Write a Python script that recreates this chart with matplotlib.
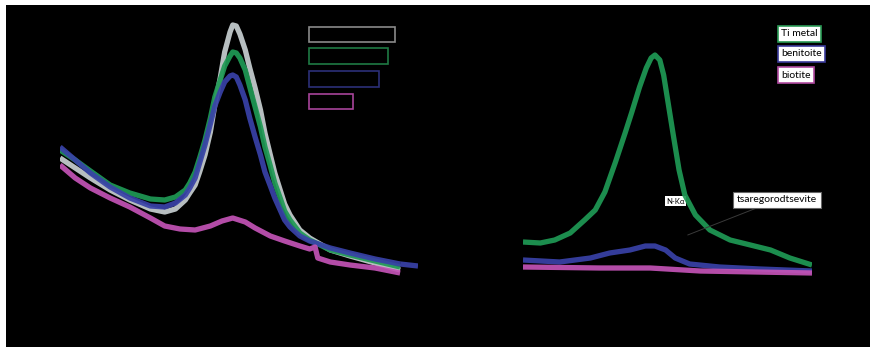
import matplotlib
matplotlib.use("Agg")
import matplotlib.pyplot as plt
from matplotlib.patches import Rectangle

plt.rcParams['font.family'] = ['Lato', 'DejaVu Sans']

# ---- left panel data (energy, intensity) ----
left_energy = [380.0, 381.7, 383.4, 385.6, 387.8, 390.1, 391.7, 392.9, 394.0, 394.5,
               395.1, 395.6, 396.2, 396.8, 397.3, 397.9, 398.4, 399.0, 399.3, 399.7,
               400.1, 400.7, 401.2, 401.8, 402.4, 402.9, 403.5, 404.0, 404.6, 405.1,
               405.7, 406.8, 407.9, 410.2, 412.4, 415.2, 418.0]
left_tsar = [142, 132, 122, 110, 100, 91, 88, 91, 100, 107,
             115, 128, 145, 168, 195, 222, 248, 268, 275, 274,
             266, 250, 232, 212, 190, 167, 145, 127, 110, 96,
             85, 70, 62, 50, 44, 37, 30]
left_ti = [150, 140, 129, 115, 107, 101, 100, 103, 110, 117,
           128, 142, 160, 182, 203, 220, 234, 244, 248, 247,
           242, 230, 213, 193, 173, 153, 134, 117, 102, 89,
           80, 67, 60, 50, 45, 39, 33]
left_ben = [153, 140, 127, 113, 102, 94, 93, 97, 105, 112,
            122, 137, 155, 176, 194, 208, 218, 224, 225, 223,
            215, 200, 182, 163, 145, 128, 114, 102, 90, 80,
            73, 64, 59, 52, 47, 41, 36]
ben_tail_energy = [418.0, 420.0]
ben_tail = [36, 34]

bio_energy = [380.0, 381.7, 383.4, 385.6, 387.8, 390.1, 391.7, 393.4, 395.1, 396.8,
              398.1, 399.3, 400.7, 401.8, 403.5, 405.1, 406.8, 407.9, 408.5, 408.8,
              410.2, 412.4, 415.2, 418.0]
left_bio = [135, 122, 112, 102, 93, 82, 74, 71, 70, 74,
            79, 82, 78, 72, 64, 59, 54, 51, 53, 42,
            38, 35, 32, 27]

# ---- right panel data ----
right_energy = [440.0, 441.8, 443.3, 444.9, 446.4, 447.5, 448.5, 449.6, 450.6, 451.3,
                452.1, 452.8, 453.3, 453.7, 454.2, 454.6, 455.1, 455.6, 456.2, 456.8,
                457.9, 459.4, 461.5, 463.6, 465.7, 467.7, 470.0]
right_ti = [58, 57, 60, 67, 80, 90, 108, 138, 167, 188,
            213, 232, 242, 245, 240, 225, 195, 165, 130, 105,
            85, 70, 60, 55, 50, 42, 35]
ben_r_energy = [440.0, 443.8, 447.0, 449.0, 451.1, 452.7, 453.7, 454.8, 455.8, 457.3,
                460.4, 464.6, 470.0]
right_ben = [40, 38, 42, 47, 50, 54, 54, 50, 42, 36,
             33, 31, 29]
bio_r_energy = [440.0, 448.0, 453.2, 458.4, 470.0]
right_bio = [33, 32, 32, 29, 27]

left_labels = ["tsaregorodtsevite", "Ti metal foils \u00d72", "benitoite BaTi", "biotite 5"]
right_labels = ["Ti metal", "benitoite", "biotite"]

c_gray = '#c8d0d2'
c_green = '#1f9a55'
c_blue = '#3942a8'
c_pink = '#c453b6'

W, H = 876, 347
fig = plt.figure(figsize=(W / 100, H / 100), dpi=100, facecolor='white')
bg = Rectangle((6 / W, 0), 864 / W, 342 / H, transform=fig.transFigure,
               facecolor='black', edgecolor='none', zorder=-10)
fig.patches.append(bg)

def make_ax(x0, x1):
    ax = fig.add_axes([x0 / W, 47 / H, (x1 - x0) / W, 295 / H])
    ax.set_facecolor('none')
    ax.patch.set_alpha(0)
    for s in ax.spines.values():
        s.set_visible(False)
    ax.tick_params(colors='black', length=0)
    ax.set_xticks([])
    ax.set_yticks([])
    ax.set_ylim(0, 295)
    return ax

lw = 3.8
kw = dict(lw=lw, alpha=0.92, solid_joinstyle='round', solid_capstyle='butt')

ax1 = make_ax(60, 418)
ax1.set_xlim(380, 420)
ax1.plot(left_energy, left_tsar, color=c_gray, **kw)
ax1.plot(left_energy, left_ti, color=c_green, **kw)
ax1.plot(left_energy, left_ben, color=c_blue, **kw)
ax1.plot(ben_tail_energy, ben_tail, color=c_blue, **kw)
ax1.plot(bio_energy, left_bio, color=c_pink, **kw)

edge_left = ['#8a8a8a', '#1f7a44', '#2c3078', '#a8449a']
ys = [34.5, 56, 79, 101.5]
for lab, ec, yp in zip(left_labels, edge_left, ys):
    ax1.text((312 - 60) / 358, (300 - yp) / 295, lab, transform=ax1.transAxes,
             ha='left', va='center', fontsize=7.5, color='black',
             bbox=dict(boxstyle='square,pad=0.3', facecolor='black', edgecolor=ec, lw=1.2))

ax2 = make_ax(523, 812)
ax2.set_xlim(440, 470)
ax2.plot(right_energy, right_ti, color=c_green, **kw)
ax2.plot(ben_r_energy, right_ben, color=c_blue, **kw)
ax2.plot(bio_r_energy, right_bio, color=c_pink, **kw)

edge_right = ['#2a9a55', '#3a3a9a', '#b04aa0']
ys_r = [34, 54, 75]
for lab, ec, yp in zip(right_labels, edge_right, ys_r):
    ax2.text((781 - 523) / 289, (300 - yp) / 295, lab, transform=ax2.transAxes,
             ha='left', va='center', fontsize=7.5, color='black',
             bbox=dict(boxstyle='square,pad=0.3', facecolor='white', edgecolor=ec, lw=1.2))

ax2.text((666 - 523) / 289, (300 - 201) / 295, 'N-K\u03b1', transform=ax2.transAxes,
         ha='left', va='center', fontsize=5.5, color='black', zorder=1,
         bbox=dict(boxstyle='square,pad=0.15', facecolor='white', edgecolor='none'))

ax2.annotate('tsaregorodtsevite', xy=(457.1, 65), xycoords='data',
             xytext=((737 - 523) / 289, (300 - 200) / 295), textcoords='axes fraction',
             ha='left', va='center', fontsize=7.5, color='black',
             bbox=dict(boxstyle='square,pad=0.35', facecolor='white', edgecolor='#666666', lw=0.8),
             arrowprops=dict(arrowstyle='-', color='#3a3a3a', lw=0.7, shrinkA=0, shrinkB=0))

fig.savefig('out.png', dpi=100, facecolor=fig.get_facecolor())
